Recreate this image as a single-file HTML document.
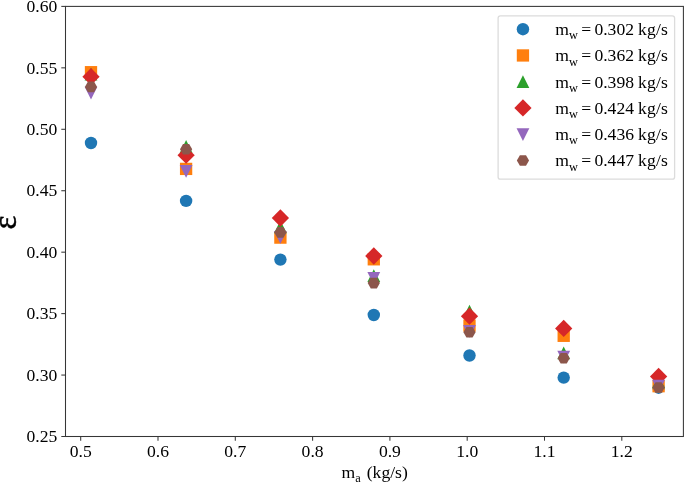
<!DOCTYPE html>
<html lang="en">
<head>
<meta charset="utf-8">
<title>Effectiveness vs air mass flow rate</title>
<style>
html,body{margin:0;padding:0;background:#fff;}
body{width:685px;height:483px;overflow:hidden;}
svg{display:block;}
svg text{font-family:"Liberation Serif",serif;fill:#000;}
</style>
</head>
<body>
<svg width="685" height="483" viewBox="0 0 685 483">
<rect x="0" y="0" width="685" height="483" fill="#ffffff"/>
<g class="series-blue">
<circle cx="91" cy="143" r="6.2" fill="#1f77b4"/>
<circle cx="186.1" cy="200.9" r="6.2" fill="#1f77b4"/>
<circle cx="280.4" cy="259.6" r="6.2" fill="#1f77b4"/>
<circle cx="373.8" cy="315" r="6.2" fill="#1f77b4"/>
<circle cx="469.5" cy="355.5" r="6.2" fill="#1f77b4"/>
<circle cx="563.7" cy="377.6" r="6.2" fill="#1f77b4"/>
<circle cx="658.6" cy="387.7" r="6.2" fill="#1f77b4"/>
</g>
<g class="series-orange">
<rect x="84.85" y="66.05" width="12.3" height="12.3" fill="#ff7f0e"/>
<rect x="179.95" y="162.75" width="12.3" height="12.3" fill="#ff7f0e"/>
<rect x="274.25" y="231.45" width="12.3" height="12.3" fill="#ff7f0e"/>
<rect x="367.65" y="253.15" width="12.3" height="12.3" fill="#ff7f0e"/>
<rect x="463.35" y="319.45" width="12.3" height="12.3" fill="#ff7f0e"/>
<rect x="557.55" y="329.65" width="12.3" height="12.3" fill="#ff7f0e"/>
<rect x="652.45" y="380.05" width="12.3" height="12.3" fill="#ff7f0e"/>
</g>
<g class="series-green">
<polygon points="91,67.7 84.6,80.5 97.4,80.5" fill="#2ca02c"/>
<polygon points="186.1,140.1 179.7,152.9 192.5,152.9" fill="#2ca02c"/>
<polygon points="280.4,220.5 274,233.3 286.8,233.3" fill="#2ca02c"/>
<polygon points="373.8,269.2 367.4,282 380.2,282" fill="#2ca02c"/>
<polygon points="469.5,304.8 463.1,317.6 475.9,317.6" fill="#2ca02c"/>
<polygon points="563.7,346.4 557.3,359.2 570.1,359.2" fill="#2ca02c"/>
<polygon points="658.6,375.5 652.2,388.3 665,388.3" fill="#2ca02c"/>
</g>
<g class="series-red">
<polygon points="91,68.07 99.63,76.7 91,85.33 82.37,76.7" fill="#d62728"/>
<polygon points="186.1,146.57 194.73,155.2 186.1,163.83 177.47,155.2" fill="#d62728"/>
<polygon points="280.4,209.37 289.03,218 280.4,226.63 271.77,218" fill="#d62728"/>
<polygon points="373.8,247.37 382.43,256 373.8,264.63 365.17,256" fill="#d62728"/>
<polygon points="469.5,307.57 478.13,316.2 469.5,324.83 460.87,316.2" fill="#d62728"/>
<polygon points="563.7,319.77 572.33,328.4 563.7,337.03 555.07,328.4" fill="#d62728"/>
<polygon points="658.6,367.87 667.23,376.5 658.6,385.13 649.97,376.5" fill="#d62728"/>
</g>
<g class="series-purple">
<polygon points="91,99.5 84.6,86.7 97.4,86.7" fill="#9467bd"/>
<polygon points="186.1,177.8 179.7,165 192.5,165" fill="#9467bd"/>
<polygon points="280.4,243.7 274,230.9 286.8,230.9" fill="#9467bd"/>
<polygon points="373.8,284.9 367.4,272.1 380.2,272.1" fill="#9467bd"/>
<polygon points="469.5,337.8 463.1,325 475.9,325" fill="#9467bd"/>
<polygon points="563.7,363.6 557.3,350.8 570.1,350.8" fill="#9467bd"/>
<polygon points="658.6,392.6 652.2,379.8 665,379.8" fill="#9467bd"/>
</g>
<g class="series-brown">
<polygon points="97.1,86.9 94.05,92.18 87.95,92.18 84.9,86.9 87.95,81.62 94.05,81.62" fill="#8c564b"/>
<polygon points="192.2,149.2 189.15,154.48 183.05,154.48 180,149.2 183.05,143.92 189.15,143.92" fill="#8c564b"/>
<polygon points="286.5,232.4 283.45,237.68 277.35,237.68 274.3,232.4 277.35,227.12 283.45,227.12" fill="#8c564b"/>
<polygon points="379.9,283.1 376.85,288.38 370.75,288.38 367.7,283.1 370.75,277.82 376.85,277.82" fill="#8c564b"/>
<polygon points="475.6,332.3 472.55,337.58 466.45,337.58 463.4,332.3 466.45,327.02 472.55,327.02" fill="#8c564b"/>
<polygon points="569.8,358.2 566.75,363.48 560.65,363.48 557.6,358.2 560.65,352.92 566.75,352.92" fill="#8c564b"/>
<polygon points="664.7,387.5 661.65,392.78 655.55,392.78 652.5,387.5 655.55,382.22 661.65,382.22" fill="#8c564b"/>
</g>
<rect x="65.5" y="6.4" width="617.9" height="430.1" fill="none" stroke="#363636" stroke-width="1.05"/>
<g stroke="#363636" stroke-width="1.05">
<line x1="61.3" y1="6.4" x2="65.5" y2="6.4"/>
<line x1="61.3" y1="67.84" x2="65.5" y2="67.84"/>
<line x1="61.3" y1="129.29" x2="65.5" y2="129.29"/>
<line x1="61.3" y1="190.73" x2="65.5" y2="190.73"/>
<line x1="61.3" y1="252.17" x2="65.5" y2="252.17"/>
<line x1="61.3" y1="313.61" x2="65.5" y2="313.61"/>
<line x1="61.3" y1="375.06" x2="65.5" y2="375.06"/>
<line x1="61.3" y1="436.5" x2="65.5" y2="436.5"/>
<line x1="80.7" y1="436.5" x2="80.7" y2="440.7"/>
<line x1="158" y1="436.5" x2="158" y2="440.7"/>
<line x1="235.3" y1="436.5" x2="235.3" y2="440.7"/>
<line x1="312.6" y1="436.5" x2="312.6" y2="440.7"/>
<line x1="389.9" y1="436.5" x2="389.9" y2="440.7"/>
<line x1="467.2" y1="436.5" x2="467.2" y2="440.7"/>
<line x1="544.5" y1="436.5" x2="544.5" y2="440.7"/>
<line x1="621.8" y1="436.5" x2="621.8" y2="440.7"/>
</g>
<g font-size="17.6px" text-anchor="end">
<text x="57.3" y="12.1">0.60</text>
<text x="57.3" y="73.54">0.55</text>
<text x="57.3" y="134.99">0.50</text>
<text x="57.3" y="196.43">0.45</text>
<text x="57.3" y="257.87">0.40</text>
<text x="57.3" y="319.31">0.35</text>
<text x="57.3" y="380.76">0.30</text>
<text x="57.3" y="442.2">0.25</text>
</g>
<g font-size="17.6px" text-anchor="middle">
<text x="80.7" y="456.6">0.5</text>
<text x="158" y="456.6">0.6</text>
<text x="235.3" y="456.6">0.7</text>
<text x="312.6" y="456.6">0.8</text>
<text x="389.9" y="456.6">0.9</text>
<text x="467.2" y="456.6">1.0</text>
<text x="544.5" y="456.6">1.1</text>
<text x="621.8" y="456.6">1.2</text>
</g>
<text x="341.6" y="477.6" font-size="17.6px">m<tspan font-size="12.3px" dy="4.3">a</tspan><tspan dy="-4.3" dx="1.6"> (kg/s)</tspan></text>
<text transform="translate(16.4,222.4) rotate(-90)" font-size="33.5px" text-anchor="middle" stroke="#000" stroke-width="0.45">ε</text>
<rect x="498.1" y="15.8" width="176.5" height="163.4" rx="2.3" ry="2.3" fill="#ffffff" fill-opacity="0.8" stroke="#dcdcdc" stroke-width="1.3"/>
<circle cx="522.95" cy="29.2" r="6.2" fill="#1f77b4"/>
<text x="555.3" y="35" font-size="17.6px" word-spacing="-0.9">m<tspan font-size="12.3px" dy="4.3">w</tspan><tspan dy="-4.3"> = </tspan><tspan dx="-0.4">0.302 </tspan><tspan dx="0.4" letter-spacing="0.2">kg/s</tspan></text>
<rect x="516.8" y="49.3" width="12.3" height="12.3" fill="#ff7f0e"/>
<text x="555.3" y="61.25" font-size="17.6px" word-spacing="-0.9">m<tspan font-size="12.3px" dy="4.3">w</tspan><tspan dy="-4.3"> = </tspan><tspan dx="-0.4">0.362 </tspan><tspan dx="0.4" letter-spacing="0.2">kg/s</tspan></text>
<polygon points="522.95,75.15 516.55,87.95 529.35,87.95" fill="#2ca02c"/>
<text x="555.3" y="87.5" font-size="17.6px" word-spacing="-0.9">m<tspan font-size="12.3px" dy="4.3">w</tspan><tspan dy="-4.3"> = </tspan><tspan dx="-0.4">0.398 </tspan><tspan dx="0.4" letter-spacing="0.2">kg/s</tspan></text>
<polygon points="522.95,99.32 531.58,107.95 522.95,116.58 514.32,107.95" fill="#d62728"/>
<text x="555.3" y="113.75" font-size="17.6px" word-spacing="-0.9">m<tspan font-size="12.3px" dy="4.3">w</tspan><tspan dy="-4.3"> = </tspan><tspan dx="-0.4">0.424 </tspan><tspan dx="0.4" letter-spacing="0.2">kg/s</tspan></text>
<polygon points="522.95,141 516.55,128.2 529.35,128.2" fill="#9467bd"/>
<text x="555.3" y="140" font-size="17.6px" word-spacing="-0.9">m<tspan font-size="12.3px" dy="4.3">w</tspan><tspan dy="-4.3"> = </tspan><tspan dx="-0.4">0.436 </tspan><tspan dx="0.4" letter-spacing="0.2">kg/s</tspan></text>
<polygon points="529.05,160.45 526,165.73 519.9,165.73 516.85,160.45 519.9,155.17 526,155.17" fill="#8c564b"/>
<text x="555.3" y="166.25" font-size="17.6px" word-spacing="-0.9">m<tspan font-size="12.3px" dy="4.3">w</tspan><tspan dy="-4.3"> = </tspan><tspan dx="-0.4">0.447 </tspan><tspan dx="0.4" letter-spacing="0.2">kg/s</tspan></text>
</svg>
</body>
</html>
